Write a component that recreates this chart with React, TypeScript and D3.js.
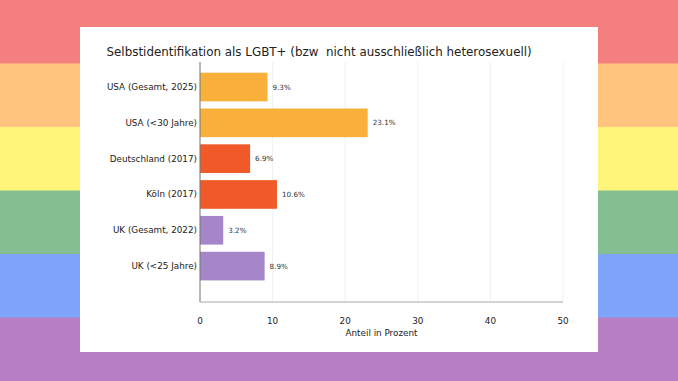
import React from "react";
import * as d3 from "d3";

const categories = [
  "USA (Gesamt, 2025)",
  "USA (<30 Jahre)",
  "Deutschland (2017)",
  "Köln (2017)",
  "UK (Gesamt, 2022)",
  "UK (<25 Jahre)",
];
const values = [9.3, 23.1, 6.9, 10.6, 3.2, 8.9];
const barColors = ["#F9B03A", "#F9B03A", "#F05A28", "#F05A28", "#A586C9", "#A586C9"];
const xTicks = [0, 10, 20, 30, 40, 50];
const stripeColors = ["#F47F7F", "#FFC57F", "#FFF57A", "#83BF90", "#7FA5FB", "#B87FC5"];
const title = "Selbstidentifikation als LGBT+ (bzw\u00a0 nicht ausschließlich heterosexuell)";
const xLabel = "Anteil in Prozent";

const W = 678;
const H = 381;
const font = "'DejaVu Sans', sans-serif";

export default function App() {
  const x = d3.scaleLinear().domain([0, 50]).range([200, 563]);
  const y = d3
    .scaleBand<string>()
    .domain(categories)
    .range([69.1, 284])
    .paddingInner(0.2)
    .paddingOuter(0.1);
  const stripe = d3.scaleBand<number>().domain(d3.range(stripeColors.length)).range([0, H]);
  const axTop = 62;
  const axBottom = 302;

  return (
    <svg
      width={W}
      height={H}
      style={{ position: "absolute", left: 0, top: 0, display: "block" }}
      fontFamily={font}
    >
      {stripeColors.map((c, i) => (
        <rect key={i} x={0} y={stripe(i)} width={W} height={stripe.bandwidth() + 0.5} fill={c} />
      ))}
      <rect x={80} y={27} width={518} height={325} fill="#ffffff" />
      <text x={106.5} y={55.5} fontSize={11.9} fill="#222">
        {title}
      </text>
      {xTicks.map((t) => (
        <line key={t} x1={x(t)} x2={x(t)} y1={axTop} y2={axBottom} stroke="#ececec" strokeWidth={0.8} />
      ))}
      {categories.map((c, i) => (
        <g key={c}>
          <rect
            x={x(0)}
            y={y(c)}
            width={x(values[i]) - x(0)}
            height={y.bandwidth()}
            fill={barColors[i]}
          />
          <text
            x={x(values[i]) + 5}
            y={(y(c) as number) + y.bandwidth() / 2}
            dominantBaseline="central"
            fontSize={7.2}
            fill="#333"
          >
            {values[i].toFixed(1)}%
          </text>
          <text
            x={197}
            y={(y(c) as number) + y.bandwidth() / 2}
            dominantBaseline="central"
            textAnchor="end"
            fontSize={8.8}
            fill="#222"
          >
            {c}
          </text>
        </g>
      ))}
      <line x1={200} x2={200} y1={axTop} y2={axBottom} stroke="#777" strokeWidth={1} />
      <line x1={200} x2={563} y1={axBottom} y2={axBottom} stroke="#aaa" strokeWidth={1.2} />
      {xTicks.map((t) => (
        <text key={t} x={x(t)} y={323.5} textAnchor="middle" fontSize={8.8} fill="#222">
          {t}
        </text>
      ))}
      <text x={381.5} y={336} textAnchor="middle" fontSize={8.8} fill="#222">
        {xLabel}
      </text>
    </svg>
  );
}
